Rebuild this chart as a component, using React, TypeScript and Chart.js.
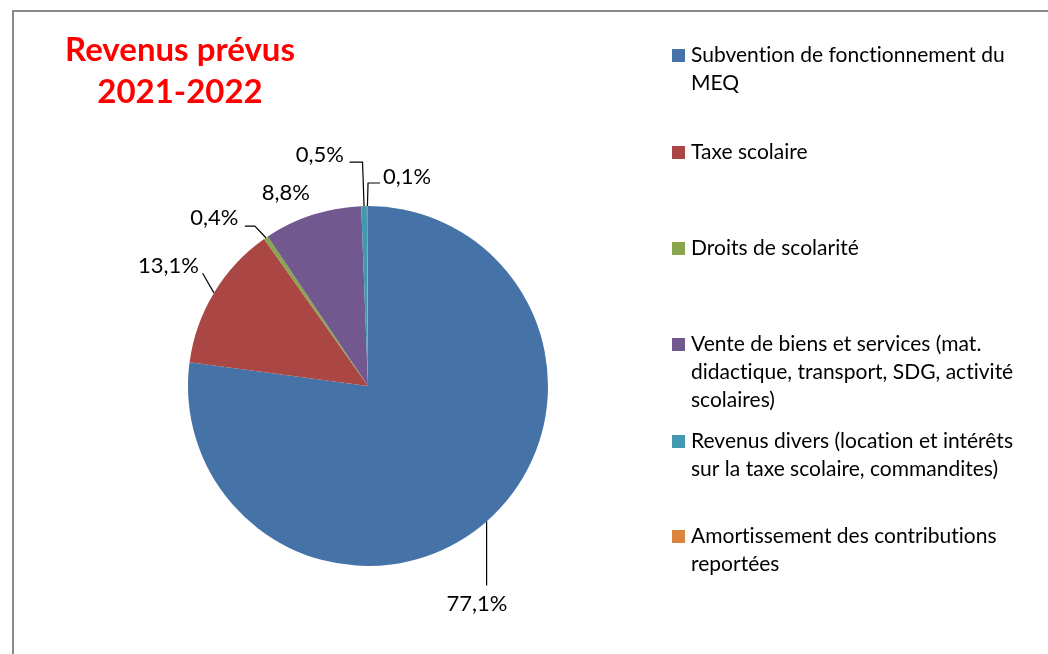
import React, { useEffect, useRef } from "react";
import { Chart, registerables } from "chart.js";

Chart.register(...registerables);

const categories = [
  "Subvention de fonctionnement du MEQ",
  "Taxe scolaire",
  "Droits de scolarité",
  "Vente de biens et services (mat. didactique, transport, SDG, activité scolaires)",
  "Revenus divers (location et intérêts sur la taxe scolaire, commandites)",
  "Amortissement des contributions reportées",
];
const legendLines = [
  ["Subvention de fonctionnement du", "MEQ"],
  ["Taxe scolaire"],
  ["Droits de scolarité"],
  ["Vente de biens et services (mat.", "didactique, transport, SDG, activité", "scolaires)"],
  ["Revenus divers (location et intérêts", "sur la taxe scolaire, commandites)"],
  ["Amortissement des contributions", "reportées"],
];
const values = [77.1, 13.1, 0.4, 8.8, 0.5, 0.1];
const valueLabels = ["77,1%", "13,1%", "0,4%", "8,8%", "0,5%", "0,1%"];
const titleLines = ["Revenus prévus", "2021-2022"];

const colors = ["#4572A7", "#AA4643", "#89A54E", "#71588F", "#4198AF", "#DB843D"];

// label placement styles: text center x / baseline offset from slice edge midpoint
const labelOffsets: [number, number][] = [
  [-9.6, 89.7],
  [-45.5, -20],
  [-51.5, -12.7],
  [-26.5, -14.8],
  [-44.3, -44.4],
  [39.6, -21.7],
];
const leaders: ([number, number][] | null)[] = [
  [[0, 0], [0, 64]],
  [[0, 0], [-11.3, -19.7]],
  [[0, 0], [-11, -11.7], [-21, -11.7]],
  null,
  [[0, 0], [-1.5, -44], [-14.5, -44]],
  [[0, 0], [0.6, -23], [12.6, -23]],
];
const legendBaselines = [62, 159, 255, 351, 448, 543];
const FONT = "Lato, 'Open Sans', sans-serif";

const decorPlugin = {
  id: "decor",
  afterDraw(chart: any) {
    const ctx = chart.ctx as any;
    ctx.save();
    // frame
    ctx.fillStyle = "#888888";
    ctx.fillRect(12, 10, 1100, 2);
    ctx.fillRect(12, 10, 2, 700);

    // title
    ctx.fillStyle = "#FF0000";
    ctx.font = `bold 33px ${FONT}`;
    ctx.textAlign = "center";
    ctx.textBaseline = "alphabetic";
    ctx.fillText(titleLines[0], 180, 61);
    ctx.fillText(titleLines[1], 180, 103);

    // legend
    ctx.textAlign = "left";
    ctx.font = `21px ${FONT}`;
    if ("letterSpacing" in ctx) ctx.letterSpacing = "0.01px";
    legendLines.forEach((lines, i) => {
      const b = legendBaselines[i];
      ctx.fillStyle = colors[i];
      ctx.fillRect(672, b - 13, 13, 13);
      ctx.fillStyle = "#000000";
      lines.forEach((ln, j) => ctx.fillText(ln, 691, b + j * 28));
    });
    if ("letterSpacing" in ctx) ctx.letterSpacing = "0px";

    // data labels
    const meta = chart.getDatasetMeta(0);
    ctx.font = `22px ${FONT}`;
    ctx.textAlign = "center";
    ctx.strokeStyle = "#000000";
    ctx.lineWidth = 1.2;
    meta.data.forEach((arc: any, i: number) => {
      const mid = (arc.startAngle + arc.endAngle) / 2;
      const ex = arc.x + arc.outerRadius * Math.cos(mid);
      const ey = arc.y + arc.outerRadius * Math.sin(mid);
      const ld = leaders[i];
      if (ld) {
        ctx.beginPath();
        ld.forEach(([dx, dy], k) => {
          if (k === 0) ctx.moveTo(ex + dx, ey + dy);
          else ctx.lineTo(ex + dx, ey + dy);
        });
        ctx.stroke();
      }
      ctx.fillStyle = "#000000";
      ctx.fillText(valueLabels[i], ex + labelOffsets[i][0], ey + labelOffsets[i][1]);
    });
    ctx.restore();
  },
};

export default function App() {
  const ref = useRef<HTMLCanvasElement | null>(null);
  useEffect(() => {
    if (!ref.current) return;
    const chart = new Chart(ref.current, {
      type: "pie",
      data: {
        labels: categories,
        datasets: [
          {
            data: values,
            backgroundColor: colors,
            borderWidth: 0,
          },
        ],
      },
      options: {
        animation: false,
        responsive: false,
        maintainAspectRatio: false,
        layout: { padding: { left: 188, right: 500, top: 206, bottom: 88 } },
        plugins: {
          legend: { display: false },
          title: { display: false },
          tooltip: { enabled: false },
        },
      },
      plugins: [decorPlugin],
    });
    return () => chart.destroy();
  }, []);
  return (
    <div style={{ position: "fixed", left: 0, top: 0, width: 1048, height: 654, background: "#ffffff" }}>
      <canvas ref={ref} width={1048} height={654} style={{ width: 1048, height: 654, display: "block" }} />
    </div>
  );
}
